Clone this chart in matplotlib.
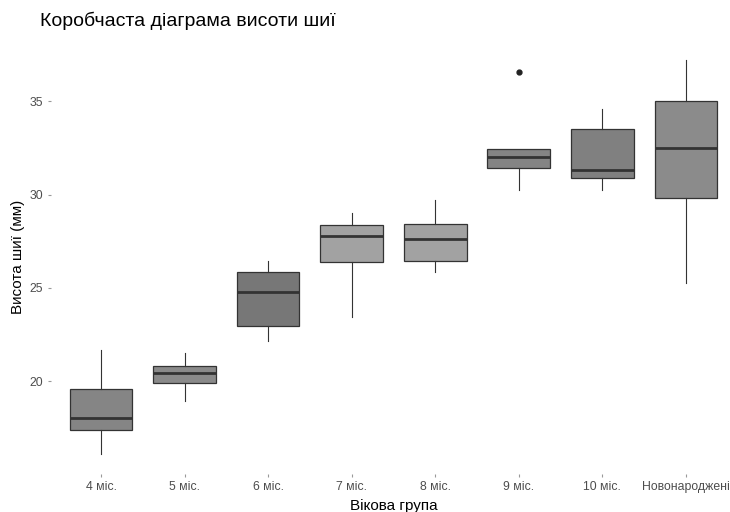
import matplotlib
matplotlib.use("Agg")
import matplotlib.pyplot as plt

categories = ["4 міс.", "5 міс.", "6 міс.", "7 міс.", "8 міс.", "9 міс.", "10 міс.", "Новонароджені"]
whis_lo = [16.1, 18.95, 22.15, 23.45, 25.85, 30.25, 30.25, 25.25]
q1 = [17.35, 19.87, 22.95, 26.36, 26.45, 31.42, 30.88, 29.83]
median = [18.0, 20.41, 24.77, 27.79, 27.6, 32.01, 31.3, 32.49]
q3 = [19.57, 20.82, 25.84, 28.36, 28.4, 32.44, 33.53, 35.01]
whis_hi = [21.66, 21.52, 26.43, 29.02, 29.71, 32.44, 34.6, 37.21]
outliers = [[], [], [], [], [], [36.58], [], []]
fills = ["#858585", "#8a8a8a", "#777777", "#a2a2a2", "#a2a2a2", "#848484", "#808080", "#8b8b8b"]

plt.rcParams['font.family'] = ['Liberation Sans', 'DejaVu Sans']

W, H = 730, 512
fig = plt.figure(figsize=(W / 100, H / 100), dpi=100)
left, right, top, bottom = 50.9, 736, 40.3, 473.7
ax = fig.add_axes([left / W, 1 - bottom / H, (right - left) / W, (bottom - top) / H])

stats = []
for i, c in enumerate(categories):
    stats.append(dict(label=c, whislo=whis_lo[i], q1=q1[i], med=median[i], q3=q3[i],
                      whishi=whis_hi[i], fliers=outliers[i]))

pos = list(range(1, len(categories) + 1))
bp = ax.bxp(stats, positions=pos, widths=0.75, patch_artist=True, showcaps=False,
            boxprops=dict(edgecolor="#333333", linewidth=0.9),
            whiskerprops=dict(color="#333333", linewidth=0.8),
            medianprops=dict(color="#333333", linewidth=2.0),
            flierprops=dict(marker="o", markerfacecolor="#222222", markeredgecolor="#222222",
                            markersize=3.5))
for patch, col in zip(bp["boxes"], fills):
    patch.set_facecolor(col)

ax.set_xlim(0.4, 8.6)
ax.set_ylim(15.03, 38.27)
ax.set_yticks([20, 25, 30, 35])
ax.set_xticks(pos)
ax.set_xticklabels(categories)
for s in ax.spines.values():
    s.set_visible(False)
ax.tick_params(axis="both", colors="#999999", labelcolor="#4d4d4d", labelsize=8.8, length=2.5, width=0.8, pad=3)

ax.set_xlabel("Вікова група", fontsize=11, color="black", labelpad=4)
ax.set_ylabel("Висота шиї (мм)", fontsize=11, color="black", labelpad=3)
fig.text(40 / W, 1 - 21 / H, "Коробчаста діаграма висоти шиї", fontsize=14, color="black",
         ha="left", va="center")

fig.savefig("out.png", dpi=100, facecolor="white")
